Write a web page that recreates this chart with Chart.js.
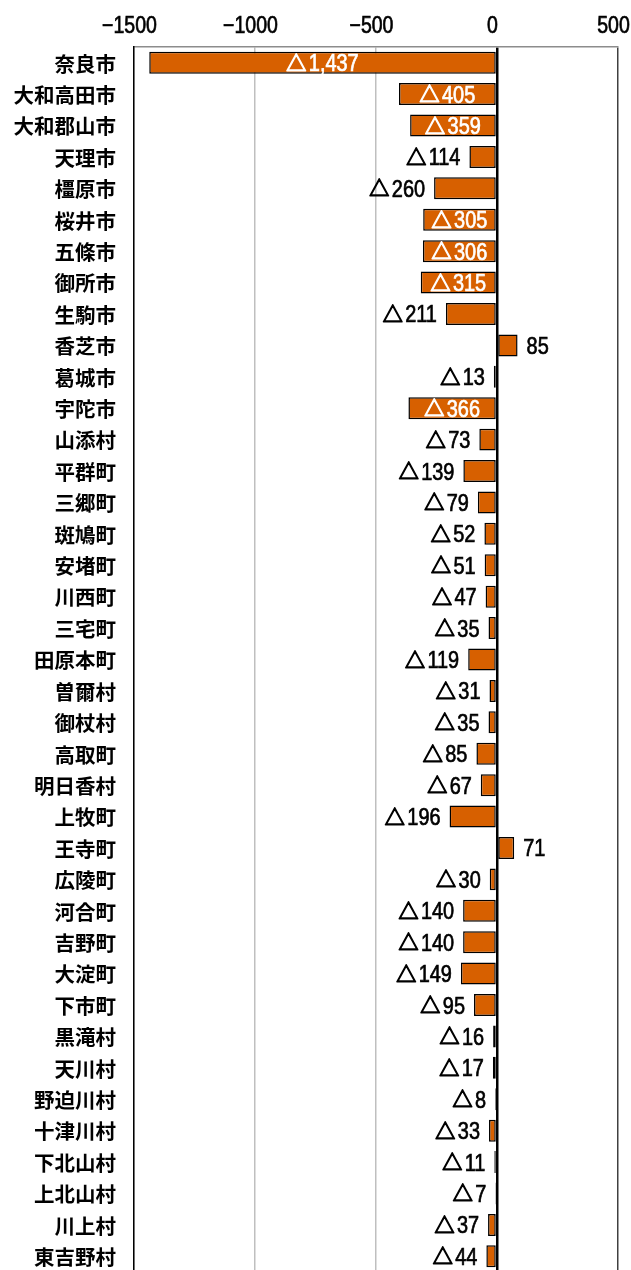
<!DOCTYPE html>
<html><head><meta charset="utf-8">
<script src="https://cdn.jsdelivr.net/npm/chart.js@4"></script>
<style>html,body{margin:0;padding:0;overflow:hidden;background:#fff}canvas{display:block}</style>
</head><body>
<canvas id="c" width="631" height="1273"></canvas>
<script>
const categories = ['奈良市','大和高田市','大和郡山市','天理市','橿原市','桜井市','五條市','御所市','生駒市','香芝市','葛城市','宇陀市','山添村','平群町','三郷町','斑鳩町','安堵町','川西町','三宅町','田原本町','曽爾村','御杖村','高取町','明日香村','上牧町','王寺町','広陵町','河合町','吉野町','大淀町','下市町','黒滝村','天川村','野迫川村','十津川村','下北山村','上北山村','川上村','東吉野村'];
const values = [-1437,-405,-359,-114,-260,-305,-306,-315,-211,85,-13,-366,-73,-139,-79,-52,-51,-47,-35,-119,-31,-35,-85,-67,-196,71,-30,-140,-140,-149,-95,-16,-17,-8,-33,-11,-7,-37,-44];
const xTicks = [-1500,-1000,-500,0,500];

const SANS = "'Liberation Sans',Arial,sans-serif";
const CJK = "'Noto Sans CJK JP','Noto Sans',sans-serif";
const NARROW = 0.83;

function narrowText(ctx, text, x, y, align, size){
  ctx.save();
  ctx.font = size + 'px ' + SANS;
  const w = ctx.measureText(text).width * NARROW;
  let left = x;
  if (align === 'right') left = x - w;
  else if (align === 'center') left = x - w / 2;
  ctx.translate(left, y);
  ctx.scale(NARROW, 1);
  ctx.textAlign = 'left';
  ctx.lineWidth = 0.7;
  ctx.strokeStyle = ctx.fillStyle;
  ctx.fillText(text, 0, 0);
  ctx.strokeText(text, 0, 0);
  ctx.restore();
  return w;
}

const TRI_FONT = '20px ' + CJK;
function drawValue(ctx, v, x, y, align){
  const size = 24;
  const digits = Math.abs(v).toLocaleString('en-US');
  const neg = v < 0;
  ctx.save();
  ctx.font = size + 'px ' + SANS;
  const dw = ctx.measureText(digits).width * NARROW;
  ctx.font = TRI_FONT;
  const tm = ctx.measureText('△');
  const inkL = tm.actualBoundingBoxLeft, inkR = tm.actualBoundingBoxRight;
  const desc = tm.actualBoundingBoxDescent;
  const triW = inkR + inkL;
  ctx.restore();
  const gap = 2.5;
  const total = (neg ? triW + gap : 0) + dw;
  let left = x;
  if (align === 'right') left = x - total;
  else if (align === 'center') left = x - total / 2;
  if (neg) {
    ctx.save();
    ctx.font = TRI_FONT;
    ctx.textAlign = 'left';
    ctx.textBaseline = 'alphabetic';
    ctx.strokeStyle = ctx.fillStyle;
    ctx.lineWidth = 1.3;
    ctx.lineJoin = 'round';
    ctx.fillText('△', left + inkL, y - desc - 0.5);
    ctx.strokeText('△', left + inkL, y - desc - 0.5);
    ctx.restore();
    left += triW + gap;
  }
  narrowText(ctx, digits, left, y, 'left', size);
}

const labelPlugin = {
  id: 'customLabels',
  afterDraw(chart){
    const ctx = chart.ctx;
    const xs = chart.scales.x, ys = chart.scales.y;
    ctx.save();
    ctx.fillStyle = '#000';
    ctx.textBaseline = 'alphabetic';
    xTicks.forEach(v => {
      const t = v < 0 ? '−' + Math.abs(v) : String(v);
      narrowText(ctx, t, xs.getPixelForValue(v) - 4.5, 33, 'center', 23.5);
    });
    ctx.font = 'bold 20.5px ' + CJK;
    ctx.textAlign = 'right';
    ctx.textBaseline = 'middle';
    categories.forEach((c, i) => {
      ctx.fillText(c, 116, ys.getPixelForValue(i) + 1);
    });
    ctx.restore();
  },
  afterDatasetsDraw(chart){
    const ctx = chart.ctx;
    const meta = chart.getDatasetMeta(0);
    ctx.save();
    meta.data.forEach((el, i) => {
      const v = values[i];
      const y = el.y + 8.5;
      if (Math.abs(v) >= 300) {
        ctx.fillStyle = '#ffffff';
        drawValue(ctx, v, (el.x + el.base) / 2, y, 'center');
      } else if (v < 0) {
        ctx.fillStyle = '#000000';
        drawValue(ctx, v, Math.min(el.x, el.base) - 9, y, 'right');
      } else {
        ctx.fillStyle = '#000000';
        drawValue(ctx, v, Math.max(el.x, el.base) + 9, y, 'left');
      }
    });
    ctx.restore();
  }
};

new Chart(document.getElementById('c'), {
  type: 'bar',
  data: {
    labels: categories,
    datasets: [{
      data: values,
      backgroundColor: '#D76000',
      borderColor: '#000000',
      borderWidth: 1.5,
      borderSkipped: false,
      barPercentage: 0.7,
      categoryPercentage: 1.0
    }]
  },
  options: {
    indexAxis: 'y',
    responsive: false,
    animation: false,
    devicePixelRatio: 1,
    layout: { padding: { left: 0, right: 13, top: 0, bottom: 1 } },
    plugins: { legend: { display: false }, tooltip: { enabled: false } },
    scales: {
      x: {
        position: 'top',
        min: -1500, max: 500,
        afterBuildTicks(s){ s.ticks = xTicks.map(v => ({ value: v })); },
        afterFit(s){ s.height = 47; s.paddingLeft = 0; s.paddingRight = 0; },
        ticks: { display: false },
        grid: {
          drawTicks: false,
          color: c => c.tick && c.tick.value === 0 ? '#000000' : (c.tick && c.tick.value === 500 ? '#404040' : '#BFBFBF'),
          lineWidth: c => c.tick && c.tick.value === 0 ? 2.5 : 1.5
        },
        border: { display: true, color: '#8C8C8C', width: 1.5 }
      },
      y: {
        afterFit(s){ s.width = 134; s.paddingTop = 0; s.paddingBottom = 0; },
        ticks: { display: false },
        grid: { display: false, drawTicks: false },
        border: { display: true, color: '#000000', width: 1.5 }
      }
    }
  },
  plugins: [labelPlugin]
});
</script>
</body></html>
